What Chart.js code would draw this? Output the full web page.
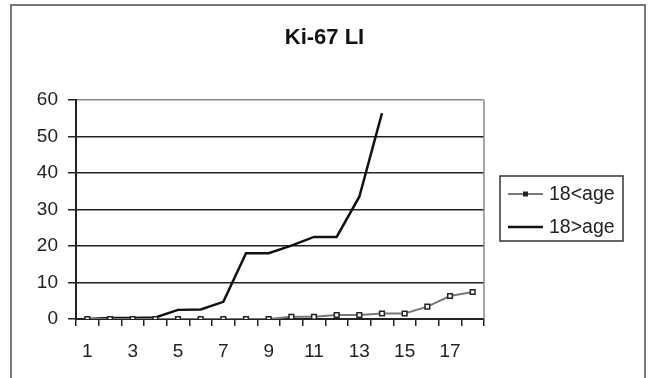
<!DOCTYPE html>
<html>
<head>
<meta charset="utf-8">
<script src="https://cdn.jsdelivr.net/npm/chart.js@4"></script>
<style>
html,body{margin:0;padding:0;background:#fff;}
#wrap{width:649px;height:378px;position:relative;}
</style>
</head>
<body>
<div id="wrap"><canvas id="c" width="649" height="378"></canvas></div>
<script>
const categories = ["1","2","3","4","5","6","7","8","9","10","11","12","13","14","15","16","17","18"];
const under18Label = "18<age";
const over18Label = "18>age";
const under18Values = [0,0,0,0,0,0,0,0,0,0.6,0.6,1.1,1.1,1.5,1.5,3.4,6.3,7.4];
const over18Values = [0,0.3,0.3,0.4,2.5,2.6,4.7,18.0,18.0,20.1,22.5,22.5,33.5,56.4];
const yTicks = [0,10,20,30,40,50,60];
const titleText = "Ki-67 LI";

const FONT = "'Liberation Sans', Arial, sans-serif";

const decor = {
  id: 'decor',
  beforeDraw(chart) {
    const ctx = chart.ctx;
    ctx.save();
    ctx.fillStyle = '#fff';
    ctx.fillRect(0, 0, chart.width, chart.height);
    ctx.strokeStyle = '#777';
    ctx.lineWidth = 2;
    ctx.strokeRect(11, 5, 634, 420);
    ctx.restore();
  },
  afterDraw(chart) {
    const ctx = chart.ctx;
    const a = chart.chartArea;
    ctx.save();
    ctx.strokeStyle = '#888';
    ctx.lineWidth = 1.5;
    ctx.beginPath();
    ctx.moveTo(a.right, a.top);
    ctx.lineTo(a.right, a.bottom);
    ctx.stroke();
    ctx.fillStyle = '#111';
    ctx.font = "bold 22px " + FONT;
    ctx.textAlign = 'center';
    ctx.textBaseline = 'middle';
    ctx.fillText(titleText, 324.5, 38);
    const lx = 500, ly = 176, lw = 123, lh = 65;
    ctx.strokeStyle = '#333';
    ctx.lineWidth = 1.5;
    ctx.strokeRect(lx, ly, lw, lh);
    const ds = chart.data.datasets;
    const rows = [194, 227];
    ds.forEach((d, i) => {
      const y = rows[i];
      ctx.strokeStyle = d.borderColor;
      ctx.lineWidth = d.borderWidth;
      ctx.beginPath();
      ctx.moveTo(508, y);
      ctx.lineTo(543, y);
      ctx.stroke();
      if (d.pointRadius > 0) {
        ctx.fillStyle = '#222';
        ctx.fillRect(523, y - 2.5, 5, 5);
      }
      ctx.fillStyle = '#222';
      ctx.font = "19.5px " + FONT;
      ctx.textAlign = 'left';
      ctx.textBaseline = 'middle';
      ctx.fillText(d.label, 549, y + 1);
    });
    ctx.restore();
  }
};

new Chart(document.getElementById('c'), {
  type: 'line',
  data: {
    labels: categories,
    datasets: [
      {
        label: under18Label,
        data: under18Values,
        borderColor: '#777',
        borderWidth: 2,
        pointStyle: 'rect',
        pointRadius: 3.3,
        pointBorderColor: '#222',
        pointBackgroundColor: '#fff',
        pointBorderWidth: 1.5,
        tension: 0
      },
      {
        label: over18Label,
        data: over18Values,
        borderColor: '#111',
        borderWidth: 2.5,
        pointRadius: 0,
        tension: 0
      }
    ]
  },
  options: {
    responsive: false,
    animation: false,
    devicePixelRatio: 1,
    layout: { padding: { left: 0, top: 100, right: 165, bottom: 0 } },
    plugins: { legend: { display: false }, title: { display: false }, tooltip: { enabled: false } },
    scales: {
      x: {
        type: 'category',
        offset: true,
        afterFit(s) { s.height = 59; },
        grid: { offset: true, drawOnChartArea: false, drawTicks: true, tickLength: 7, color: '#222', tickColor: '#222', lineWidth: 1.5 },
        border: { color: '#222', width: 2 },
        ticks: {
          autoSkip: false, maxRotation: 0, minRotation: 0, padding: 14,
          color: '#222', font: { family: FONT, size: 19 },
          callback(v, i) { return i % 2 === 0 ? categories[i] : ''; }
        }
      },
      y: {
        min: 0, max: 60,
        afterFit(s) { s.width = 76; },
        afterBuildTicks(s) { s.ticks = yTicks.map(v => ({ value: v })); },
        grid: {
          drawTicks: true, tickLength: 8,
          color: (c) => (c.tick && c.tick.value === 60) ? '#888' : '#222',
          tickColor: '#222',
          lineWidth: 1.5
        },
        border: { color: '#222', width: 2 },
        ticks: { padding: 10, color: '#222', font: { family: FONT, size: 19 } }
      }
    }
  },
  plugins: [decor]
});
</script>
</body>
</html>
